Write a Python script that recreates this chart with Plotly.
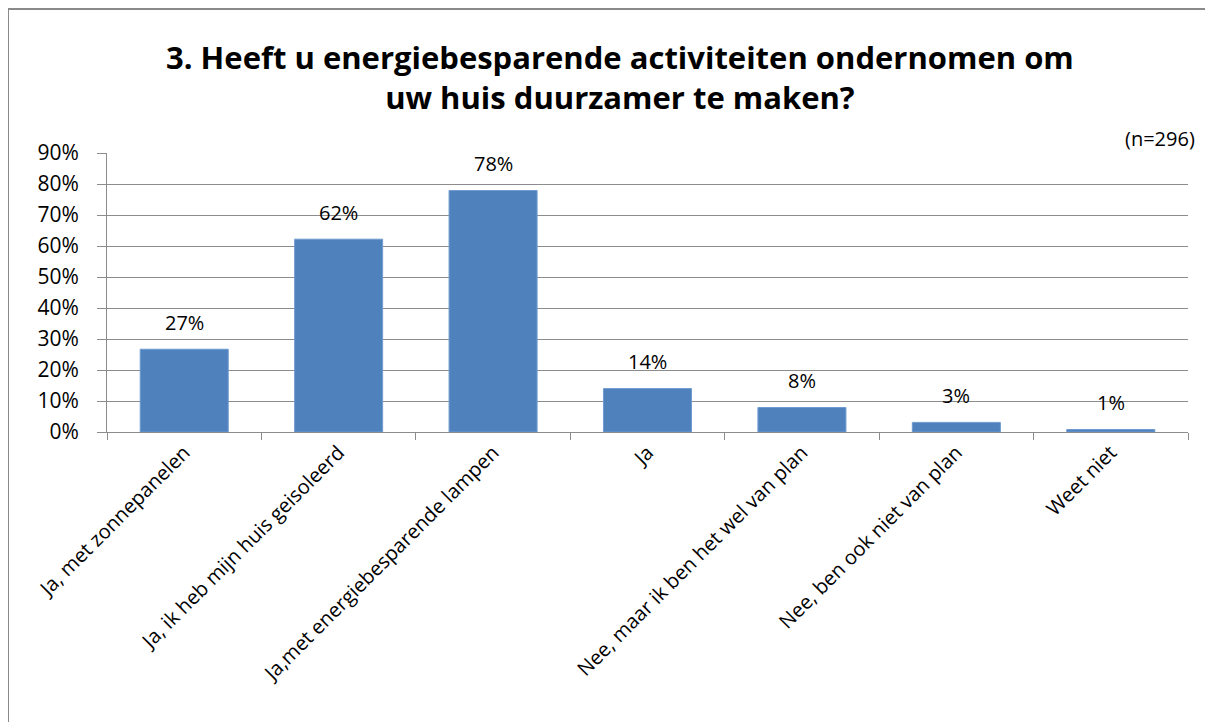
import plotly.graph_objects as go

categories = [
    "Ja, met zonnepanelen",
    "Ja, ik heb mijn huis geisoleerd",
    "Ja,met energiebesparende lampen",
    "Ja",
    "Nee, maar ik ben het wel van plan",
    "Nee, ben ook niet van plan",
    "Weet niet",
]
values = [0.267, 0.622, 0.779, 0.140, 0.079, 0.031, 0.008]
y_ticks = [0, 0.1, 0.2, 0.3, 0.4, 0.5, 0.6, 0.7, 0.8, 0.9]
y_tick_labels = ["0%", "10%", "20%", "30%", "40%", "50%", "60%", "70%", "80%", "90%"]
title_text = "3. Heeft u energiebesparende activiteiten ondernomen om<br>uw huis duurzamer te maken?"
n_text = "(n=296)"

FONT = "Open Sans"
GRID = "#8c8c8c"

fig = go.Figure()
fig.add_trace(go.Bar(
    x=categories, y=values,
    marker=dict(color="#4F81BD", line=dict(color="#6f9bd0", width=1)),
    width=0.57,
    hoverinfo="skip",
))

for c, v in zip(categories, values):
    fig.add_annotation(x=c, y=v, text=f"{round(v*100):d}%", showarrow=False,
                       yshift=27, yanchor="middle",
                       font=dict(family=FONT, size=20, color="black"))

# figure pixel geometry (page is offset by the 8px body margin)
W, H = 1205, 714
L, R, T, B = 99, 1180, 145, 424
pw, ph = R - L, B - T

def px(x):
    return (x - L) / pw

def py(y):
    return (B - y) / ph

# outer chart border (top and left visible)
fig.add_shape(type="line", xref="paper", yref="paper", x0=px(0), x1=px(1204), y0=py(1), y1=py(1),
              line=dict(color="#8a8a8a", width=2))
fig.add_shape(type="line", xref="paper", yref="paper", x0=px(0), x1=px(0), y0=py(0), y1=py(714),
              line=dict(color="#8a8a8a", width=2))

fig.add_annotation(xref="paper", yref="paper", x=px(612), y=py(69), text="<b>" + title_text + "</b>",
                   showarrow=False, xanchor="center", yanchor="middle", align="center",
                   font=dict(family=FONT, size=31, color="black"))
fig.add_annotation(xref="paper", yref="paper", x=px(1189), y=py(130), text=n_text,
                   showarrow=False, xanchor="right", yanchor="middle",
                   font=dict(family=FONT, size=20, color="black"))

fig.update_layout(
    width=W, height=H,
    margin=dict(l=L, r=W - R, t=T, b=H - B, pad=0),
    paper_bgcolor="white", plot_bgcolor="white",
    showlegend=False,
    font=dict(family=FONT, color="black"),
)
fig.update_xaxes(
    tickangle=-45, tickfont=dict(family=FONT, size=20, color="black"),
    showline=True, linecolor=GRID, linewidth=1,
    ticks="outside", tickson="boundaries", ticklen=7, tickcolor=GRID,
    showgrid=False,
)
fig.update_yaxes(
    range=[0, 0.9], tickvals=y_ticks, ticktext=y_tick_labels,
    tickfont=dict(family=FONT, size=21, color="black"),
    showgrid=True, gridcolor=GRID, gridwidth=1,
    showline=True, linecolor=GRID, linewidth=1,
    ticks="outside", ticklen=9, tickcolor=GRID, ticklabelstandoff=14,
    zeroline=False,
)

fig.write_html("out.html")
